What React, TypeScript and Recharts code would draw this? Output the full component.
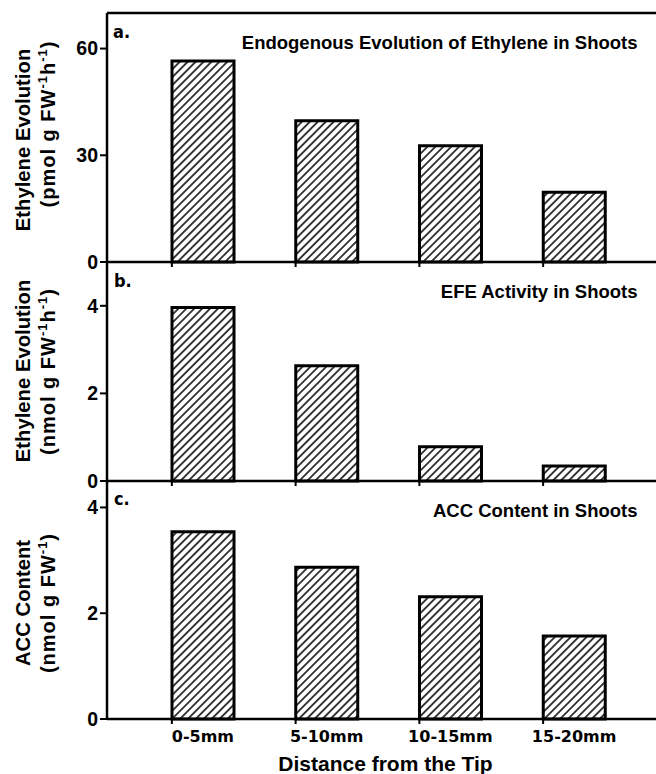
import React from 'react';
import { BarChart, Bar, XAxis, YAxis, ReferenceLine } from 'recharts';

const categories = ['0-5mm', '5-10mm', '10-15mm', '15-20mm'];
const endogenousEthylene = [56.5, 39.7, 32.7, 19.6];
const efeActivity = [3.96, 2.63, 0.78, 0.34];
const accContent = [3.54, 2.87, 2.31, 1.57];
const ticksA = [0, 30, 60];
const ticksB = [0, 2, 4];
const ticksC = [0, 2, 4];
const domainA: [number, number] = [0, 70];
const domainB: [number, number] = [0, 5];
const domainC: [number, number] = [0, 4.5];

const dataA = categories.map((name, i) => ({ name, value: endogenousEthylene[i] }));
const dataB = categories.map((name, i) => ({ name, value: efeActivity[i] }));
const dataC = categories.map((name, i) => ({ name, value: accContent[i] }));

const W = 656;
const H = 774;
const SANS = 'Liberation Sans, Arial, Helvetica, sans-serif';
const WIDE = 'DejaVu Sans, Verdana, sans-serif';
const NARROW = 'Liberation Sans Narrow, DejaVu Sans Condensed, Arial Narrow, sans-serif';
const BAR_SIZE = 62;

const XTick = (props: any) => {
  const { x, y, payload, showLabel } = props;
  return (
    <g>
      <line x1={x - BAR_SIZE / 2} x2={x - BAR_SIZE / 2} y1={y} y2={y + 5} stroke="#000" strokeWidth={2} />
      {showLabel && (
        <text x={x} y={y + 23} textAnchor="middle" fontFamily={WIDE} fontWeight={700} fontSize={16} fill="#000">
          {payload.value}
        </text>
      )}
    </g>
  );
};

const yTickStyle = { fill: '#000', fontSize: 19.5, fontWeight: 700, fontFamily: SANS };

const Sup = ({ children }: { children: React.ReactNode }) => (
  <tspan dy={-8} fontSize={13}>{children}</tspan>
);

const YLabel = ({ cy1, cy2, line1, line2 }: { cy1: number; cy2: number; line1: string; line2: React.ReactNode }) => (
  <g>
    <text
      x={29.5}
      y={cy1}
      transform={`rotate(-90, 29.5, ${cy1})`}
      textAnchor="middle"
      fontFamily={SANS}
      fontWeight={700}
      fontSize={20.3}
      fill="#000"
    >
      {line1}
    </text>
    <text
      x={54.5}
      y={cy2}
      transform={`rotate(-90, 54.5, ${cy2})`}
      textAnchor="middle"
      fontFamily={SANS}
      fontWeight={700}
      fontSize={20}
      letterSpacing={1}
      fill="#000"
    >
      {line2}
    </text>
  </g>
);

const Title = ({ y, children }: { y: number; children: string }) => (
  <text x={637.5} y={y} textAnchor="end" fontFamily={SANS} fontWeight={700} fontSize={18.5} fill="#000">
    {children}
  </text>
);

const Letter = ({ x, y, children }: { x: number; y: number; children: string }) => (
  <text x={x} y={y} fontFamily={NARROW} fontWeight={700} fontSize={18} fill="#000">
    {children}
  </text>
);

const axisLine = { stroke: '#000', strokeWidth: 2.5 };
const yTickLine = { stroke: '#000', strokeWidth: 2 };

export default function App() {
  return (
    <div style={{ position: 'absolute', left: 0, top: 0, width: W, height: H, background: '#fff' }}>
      <svg width={0} height={0} style={{ position: 'absolute' }}>
        <defs>
          <pattern id="hatch" patternUnits="userSpaceOnUse" width={5.6} height={5.6} patternTransform="rotate(45)">
            <rect x={0} y={0} width={5.6} height={5.6} fill="#fff" />
            <line x1={2.8} y1={-1} x2={2.8} y2={6.6} stroke="#000" strokeWidth={1.5} />
          </pattern>
        </defs>
      </svg>

      {/* Panel a */}
      <div style={{ position: 'absolute', left: 0, top: 0 }}>
        <BarChart width={W} height={H} data={dataA} margin={{ top: 13, right: 0, left: 0, bottom: 502 }}>
          <XAxis
            dataKey="name"
            height={10}
            padding={{ left: 34, right: 20 }}
            tickSize={0}
            tickMargin={0}
            tickLine={false}
            axisLine={axisLine}
            interval={0}
            tick={<XTick showLabel={false} />}
          />
          <YAxis
            width={107}
            domain={domainA}
            ticks={ticksA}
            tickSize={7}
            tick={yTickStyle}
            tickLine={yTickLine}
            axisLine={axisLine}
          />
          <ReferenceLine y={70} stroke="#000" strokeWidth={2.5} />
          <Bar dataKey="value" barSize={BAR_SIZE} fill="url(#hatch)" stroke="#000" strokeWidth={3} isAnimationActive={false} />
          <Title y={49}>Endogenous Evolution of Ethylene in Shoots</Title>
          <Letter x={113} y={38}>a.</Letter>
          <YLabel
            cy1={140}
            cy2={124}
            line1="Ethylene Evolution"
            line2={<>(pmol g FW<Sup>-1</Sup><tspan dy={8}>h</tspan><Sup>-1</Sup><tspan dy={8}>)</tspan></>}
          />
        </BarChart>
      </div>

      {/* Panel b */}
      <div style={{ position: 'absolute', left: 0, top: 0 }}>
        <BarChart width={W} height={H} data={dataB} margin={{ top: 262, right: 0, left: 0, bottom: 283 }}>
          <XAxis
            dataKey="name"
            height={10}
            padding={{ left: 34, right: 20 }}
            tickSize={0}
            tickMargin={0}
            tickLine={false}
            axisLine={axisLine}
            interval={0}
            tick={<XTick showLabel={false} />}
          />
          <YAxis
            width={107}
            domain={domainB}
            ticks={ticksB}
            tickSize={7}
            tick={yTickStyle}
            tickLine={yTickLine}
            axisLine={axisLine}
          />
          <Bar dataKey="value" barSize={BAR_SIZE} fill="url(#hatch)" stroke="#000" strokeWidth={3} isAnimationActive={false} />
          <Title y={297.5}>EFE Activity in Shoots</Title>
          <Letter x={114} y={287}>b.</Letter>
          <YLabel
            cy1={371}
            cy2={371.5}
            line1="Ethylene Evolution"
            line2={<>(nmol g FW<Sup>-1</Sup><tspan dy={8}>h</tspan><Sup>-1</Sup><tspan dy={8}>)</tspan></>}
          />
        </BarChart>
      </div>

      {/* Panel c */}
      <div style={{ position: 'absolute', left: 0, top: 0 }}>
        <BarChart width={W} height={H} data={dataC} margin={{ top: 481, right: 0, left: 0, bottom: 0 }}>
          <XAxis
            dataKey="name"
            height={55}
            padding={{ left: 34, right: 20 }}
            tickSize={0}
            tickMargin={0}
            tickLine={false}
            axisLine={axisLine}
            interval={0}
            tick={<XTick showLabel={true} />}
          />
          <YAxis
            width={107}
            domain={domainC}
            ticks={ticksC}
            tickSize={7}
            tick={yTickStyle}
            tickLine={yTickLine}
            axisLine={axisLine}
          />
          <Bar dataKey="value" barSize={BAR_SIZE} fill="url(#hatch)" stroke="#000" strokeWidth={3} isAnimationActive={false} />
          <Title y={516.5}>ACC Content in Shoots</Title>
          <Letter x={114} y={505}>c.</Letter>
          <YLabel
            cy1={603}
            cy2={603}
            line1="ACC Content"
            line2={<>(nmol g FW<Sup>-1</Sup><tspan dy={8}>)</tspan></>}
          />
          <text x={385.5} y={771} textAnchor="middle" fontFamily={SANS} fontWeight={700} fontSize={21} fill="#000">
            Distance from the Tip
          </text>
        </BarChart>
      </div>
    </div>
  );
}
